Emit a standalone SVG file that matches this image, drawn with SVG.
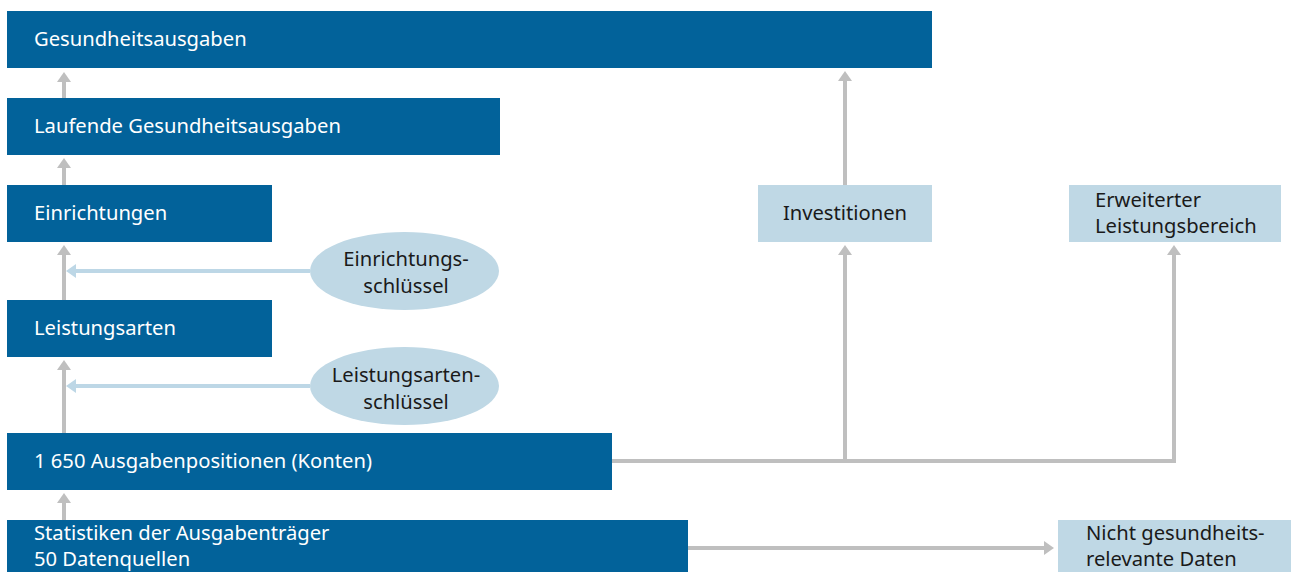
<svg xmlns="http://www.w3.org/2000/svg" width="1291" height="572" viewBox="0 0 1291 572">
<defs>
<style>
.dark{fill:#02629a;}
.light{fill:#bfd8e5;}
.tw{font-family:"Noto Sans","Open Sans",sans-serif;font-size:20.2px;fill:#ffffff;}
.tb{font-family:"Noto Sans","Open Sans",sans-serif;font-size:20.2px;fill:#1a1a1a;}
.g{stroke:#bfbfbf;stroke-width:4;fill:none;}
.b{stroke:#bdd7e6;stroke-width:4;fill:none;}
</style>
<marker id="ag" markerUnits="userSpaceOnUse" markerWidth="12" markerHeight="14" refX="2" refY="7" orient="auto"><path d="M0,0 L10,7 L0,14 z" fill="#bfbfbf"/></marker>
<marker id="ab" markerUnits="userSpaceOnUse" markerWidth="12" markerHeight="14" refX="2" refY="7" orient="auto"><path d="M0,0 L10,7 L0,14 z" fill="#bdd7e6"/></marker>
</defs>
<rect width="1291" height="572" fill="#ffffff"/>
<g id="connectors">
<line class="g" x1="64" y1="98" x2="64" y2="80" marker-end="url(#ag)"/>
<line class="g" x1="64" y1="185" x2="64" y2="166" marker-end="url(#ag)"/>
<line class="g" x1="64" y1="300" x2="64" y2="253" marker-end="url(#ag)"/>
<line class="g" x1="64" y1="433" x2="64" y2="368" marker-end="url(#ag)"/>
<line class="g" x1="64" y1="520" x2="64" y2="501" marker-end="url(#ag)"/>
<line class="g" x1="845" y1="185" x2="845" y2="79" marker-end="url(#ag)"/>
<line class="g" x1="845" y1="461" x2="845" y2="253" marker-end="url(#ag)"/>
<path class="g" d="M612,461 H1174 V253" marker-end="url(#ag)"/>
<line class="g" x1="688" y1="548" x2="1046" y2="548" marker-end="url(#ag)"/>
<line class="b" x1="310" y1="271" x2="74" y2="271" marker-end="url(#ab)"/>
<line class="b" x1="310" y1="386" x2="74" y2="386" marker-end="url(#ab)"/>
</g>
<g id="n-gesundheitsausgaben"><rect class="dark" x="7" y="11" width="925" height="57"/><text class="tw" x="34" y="46">Gesundheitsausgaben</text></g>
<g id="n-laufende"><rect class="dark" x="7" y="98" width="493" height="57"/><text class="tw" x="34" y="133">Laufende Gesundheitsausgaben</text></g>
<g id="n-einrichtungen"><rect class="dark" x="7" y="185" width="265" height="57"/><text class="tw" x="34" y="220">Einrichtungen</text></g>
<g id="n-leistungsarten"><rect class="dark" x="7" y="300" width="265" height="57"/><text class="tw" x="34" y="335">Leistungsarten</text></g>
<g id="n-ausgabenpositionen"><rect class="dark" x="7" y="433" width="605" height="57"/><text class="tw" x="34" y="468">1 650 Ausgabenpositionen (Konten)</text></g>
<g id="n-statistiken"><rect class="dark" x="7" y="520" width="681" height="60"/><text class="tw" x="34" y="540">Statistiken der Ausgabenträger</text><text class="tw" x="34" y="566">50 Datenquellen</text></g>
<g id="n-investitionen"><rect class="light" x="758" y="185" width="174" height="57"/><text class="tb" x="845" y="220" text-anchor="middle">Investitionen</text></g>
<g id="n-erweiterter"><rect class="light" x="1069" y="185" width="212" height="57"/><text class="tb" x="1095" y="207">Erweiterter</text><text class="tb" x="1095" y="233">Leistungsbereich</text></g>
<g id="n-nicht"><rect class="light" x="1058" y="520" width="233" height="60"/><text class="tb" x="1086" y="540">Nicht gesundheits-</text><text class="tb" x="1086" y="566">relevante Daten</text></g>
<g id="n-einrichtungsschluessel"><ellipse class="light" cx="404.5" cy="271" rx="94.5" ry="39"/><text class="tb" x="406" y="266" text-anchor="middle">Einrichtungs-</text><text class="tb" x="406" y="293" text-anchor="middle">schlüssel</text></g>
<g id="n-leistungsartenschluessel"><ellipse class="light" cx="404.5" cy="386" rx="94.5" ry="39"/><text class="tb" x="406" y="382" text-anchor="middle">Leistungsarten-</text><text class="tb" x="406" y="409" text-anchor="middle">schlüssel</text></g>
</svg>
